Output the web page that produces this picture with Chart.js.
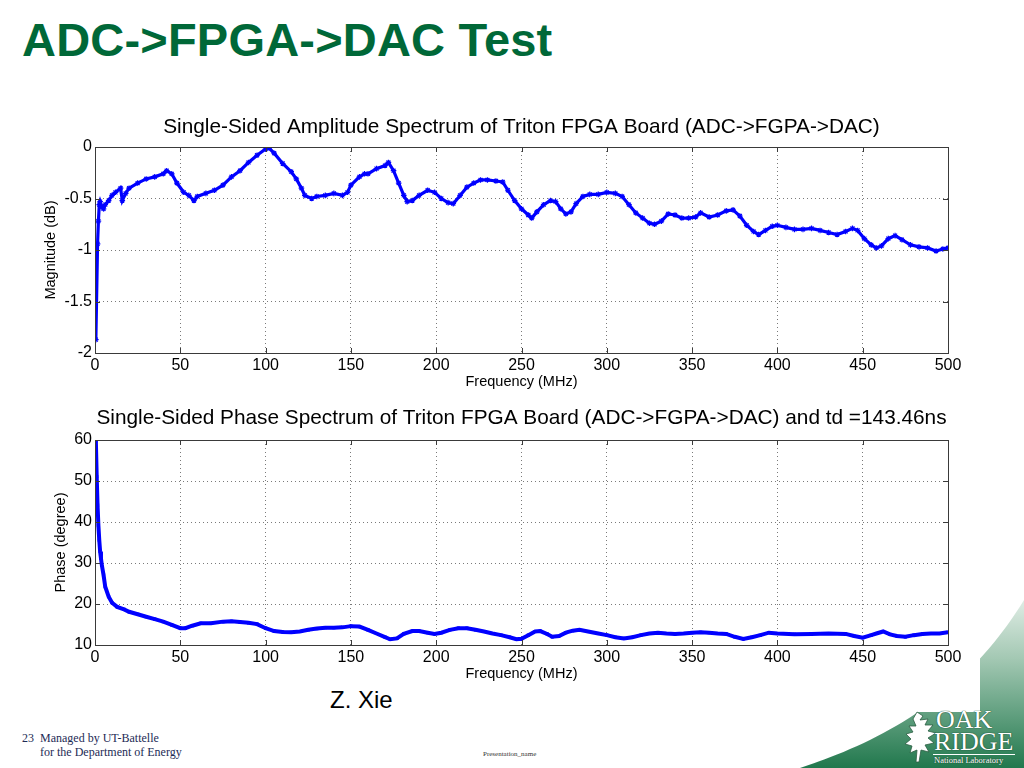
<!DOCTYPE html>
<html>
<head>
<meta charset="utf-8">
<script src="https://cdn.jsdelivr.net/npm/chart.js@4.4.1/dist/chart.umd.min.js"></script>
<style>
  html, body { margin: 0; padding: 0; }
  body { width: 1024px; height: 768px; overflow: hidden; position: relative; background: #fff; font-family: "Liberation Sans", Arial, sans-serif; }
  .abs { position: absolute; }
  #slideTitle { left: 22px; top: 16px; font-size: 47px; line-height: 47px; font-weight: bold; color: #006838; white-space: nowrap; letter-spacing: 0.2px; }
  #swoosh { left: 0; top: 0; }
  #paper { left: 0; top: 0; width: 980px; height: 712px; background: #fff; }
  #c1 { left: 0; top: 111px; }
  #c2 { left: 0; top: 404px; }
  #author { left: 330px; top: 686px; font-size: 24px; color: #000; }
  .foot { font-family: "Liberation Serif", "Times New Roman", serif; font-size: 12px; color: #1d2b55; white-space: nowrap; }
  #pres { left: 483px; top: 750px; font-family: "Liberation Serif", serif; font-size: 7px; color: #333; }
  .logo { font-family: "Liberation Serif", serif; color: #fff; white-space: nowrap; text-shadow: 0 0 1px #1c4d33, 0 0 1px #1c4d33; }
</style>
</head>
<body>
<svg id="swoosh" class="abs" width="1024" height="768">
  <defs>
    <linearGradient id="gr" x1="0" y1="600" x2="0" y2="768" gradientUnits="userSpaceOnUse">
      <stop offset="0" stop-color="#dfece4"/>
      <stop offset="0.35" stop-color="#a3c8b3"/>
      <stop offset="1" stop-color="#21784d"/>
    </linearGradient>
  </defs>
  <path d="M800,768 C870,745 960,705 1024,600 L1024,768 Z" fill="url(#gr)"/>
</svg>
<div id="paper" class="abs"></div>
<div id="slideTitle" class="abs">ADC-&gt;FPGA-&gt;DAC Test</div>
<canvas id="c1" class="abs" width="1024" height="282"></canvas>
<canvas id="c2" class="abs" width="1024" height="281"></canvas>
<div id="author" class="abs">Z. Xie</div>
<div class="abs foot" style="left:22px; top:731px;">23&nbsp;&nbsp;Managed by UT-Battelle</div>
<div class="abs foot" style="left:40px; top:745px;">for the Department of Energy</div>
<div id="pres" class="abs">Presentation_name</div>
<svg class="abs" style="left:903px; top:710px;" width="36" height="54">
  <path d="M14,2 L20,6 L17,10 L25,9 L22,15 L30,15 L25,21 L33,23 L25,28 L31,33 L22,35 L26,42 L18,40 L16,52 L13,52 L14,40 L7,43 L9,36 L2,34 L8,29 L3,24 L10,22 L6,16 L13,16 L10,9 Z" fill="#fff" stroke="#2c5e43" stroke-width="0.8"/>
</svg>
<div class="abs logo" style="left:936px; top:707px; font-size:26px; line-height:26px;">OAK</div>
<div class="abs logo" style="left:934px; top:729px; font-size:26px; line-height:26px;">RIDGE</div>
<div class="abs" style="left:933px; top:754px; width:82px; border-top:1px solid #fff;"></div>
<div class="abs logo" style="left:934px; top:755px; font-size:8.5px; line-height:10px;">National Laboratory</div>

<script>
// amplitude spectrum (MHz, dB)
const magFreq = [0.5, 1.5, 2, 2.5, 3, 4, 5, 6, 8, 10, 12, 15, 16, 18, 20, 25, 30, 35, 40, 42,
  45, 48, 52, 55, 58, 60, 65, 70, 75, 80, 85, 90, 95, 100, 102, 105, 110, 115, 118, 121,
  123, 127, 130, 135, 140, 145, 148, 150, 155, 158, 160, 165, 170, 172, 175, 178, 181, 183, 186, 190,
  195, 199, 203, 207, 210, 214, 218, 222, 226, 230, 235, 239, 242, 246, 250, 254, 256, 259, 263, 267,
  270, 273, 276, 279, 282, 286, 290, 295, 300, 305, 309, 313, 317, 321, 325, 328, 332, 336, 340, 344,
  348, 352, 355, 360, 365, 370, 374, 378, 382, 386, 389, 393, 397, 400, 405, 410, 415, 420, 425, 430,
  435, 440, 444, 447, 451, 455, 458, 461, 465, 469, 473, 478, 483, 488, 493, 497, 500];
const magDb = [-1.87, -0.94, -0.72, -0.56, -0.53, -0.58, -0.60, -0.56, -0.52, -0.47, -0.44, -0.40, -0.52, -0.45, -0.40, -0.35, -0.31, -0.29, -0.26, -0.23,
  -0.26, -0.35, -0.44, -0.47, -0.52, -0.48, -0.45, -0.42, -0.37, -0.29, -0.23, -0.15, -0.08, -0.02, -0.01, -0.06, -0.16, -0.24, -0.31, -0.40,
  -0.47, -0.50, -0.48, -0.47, -0.45, -0.47, -0.44, -0.37, -0.29, -0.26, -0.26, -0.21, -0.18, -0.15, -0.23, -0.35, -0.47, -0.53, -0.52, -0.47,
  -0.42, -0.44, -0.50, -0.54, -0.55, -0.47, -0.39, -0.35, -0.32, -0.32, -0.33, -0.34, -0.42, -0.52, -0.60, -0.66, -0.69, -0.63, -0.56, -0.52,
  -0.53, -0.60, -0.65, -0.63, -0.55, -0.48, -0.46, -0.46, -0.44, -0.45, -0.48, -0.56, -0.64, -0.69, -0.74, -0.75, -0.72, -0.65, -0.66, -0.69,
  -0.69, -0.68, -0.64, -0.68, -0.66, -0.62, -0.61, -0.67, -0.76, -0.82, -0.85, -0.81, -0.77, -0.76, -0.78, -0.80, -0.80, -0.79, -0.81, -0.83,
  -0.85, -0.82, -0.79, -0.81, -0.89, -0.95, -0.98, -0.96, -0.89, -0.86, -0.90, -0.95, -0.97, -0.98, -1.01, -0.99, -0.98];

// phase spectrum (MHz, degree)
const phaseFreq = [0.5, 1, 1.5, 2, 2.5, 3, 3.5, 4, 5, 6, 8, 10, 13, 17, 20, 25, 30, 35, 40, 45,
  50, 53, 57, 62, 68, 75, 80, 85, 90, 95, 100, 105, 110, 115, 120, 125, 130, 135, 140, 145,
  150, 155, 160, 165, 170, 173, 177, 181, 186, 190, 195, 199, 203, 208, 213, 218, 223, 228, 233, 238,
  243, 247, 250, 254, 258, 261, 265, 268, 272, 276, 280, 284, 289, 295, 300, 305, 310, 315, 320, 325,
  330, 335, 340, 345, 350, 355, 360, 365, 370, 375, 380, 385, 390, 395, 400, 410, 420, 430, 440, 445,
  450, 455, 458, 462, 466, 470, 475, 480, 485, 490, 495, 500];
const phaseDeg = [59.8, 51.1, 44.1, 39.1, 35.6, 32.8, 31.1, 29.5, 27.1, 24.2, 21.8, 20.3, 19.3, 18.7, 18.1, 17.5, 16.9, 16.3, 15.7, 14.9,
  14.1, 14.1, 14.7, 15.3, 15.3, 15.7, 15.8, 15.6, 15.4, 15.1, 14.1, 13.4, 13.2, 13.1, 13.3, 13.7, 14.0, 14.2, 14.2, 14.3,
  14.6, 14.5, 13.7, 12.8, 11.9, 11.4, 11.6, 12.7, 13.4, 13.4, 13.0, 12.7, 13.0, 13.7, 14.1, 14.1, 13.7, 13.3, 12.8, 12.4,
  11.9, 11.4, 11.5, 12.4, 13.3, 13.4, 12.7, 12.0, 12.2, 13.0, 13.5, 13.7, 13.3, 12.8, 12.4, 11.9, 11.6, 11.9, 12.4, 12.8,
  13.0, 12.8, 12.7, 12.8, 13.0, 13.1, 13.0, 12.8, 12.7, 12.0, 11.5, 11.9, 12.4, 13.0, 12.8, 12.6, 12.7, 12.8, 12.7, 12.2,
  11.8, 12.4, 12.8, 13.3, 12.6, 12.2, 12.0, 12.4, 12.7, 12.8, 12.8, 13.1];

const freqTicks = [0, 50, 100, 150, 200, 250, 300, 350, 400, 450, 500];

const AREA_LEFT = 95, AREA_RIGHT = 948;
const FONT = "'Liberation Sans', Arial, sans-serif";

// matlab style box with inward ticks, title centred over the axes
const boxPlugin = {
  id: "box",
  afterDraw(chart, args, opts) {
    const ctx = chart.ctx, a = chart.chartArea;
    const xs = chart.scales.x, ys = chart.scales.y;
    ctx.save();
    ctx.strokeStyle = "#3a3a3a";
    ctx.lineWidth = 1;
    ctx.strokeRect(Math.round(a.left) + 0.5, Math.round(a.top) + 0.5, Math.round(a.right - a.left), Math.round(a.bottom - a.top));
    ctx.beginPath();
    xs.ticks.forEach((t, i) => {
      const px = Math.round(xs.getPixelForTick(i)) + 0.5;
      ctx.moveTo(px, a.bottom); ctx.lineTo(px, a.bottom - 5);
      ctx.moveTo(px, a.top); ctx.lineTo(px, a.top + 5);
    });
    ys.ticks.forEach((t, i) => {
      const py = Math.round(ys.getPixelForTick(i)) + 0.5;
      ctx.moveTo(a.left, py); ctx.lineTo(a.left + 5, py);
      ctx.moveTo(a.right, py); ctx.lineTo(a.right - 5, py);
    });
    ctx.stroke();
    ctx.fillStyle = "#000";
    ctx.font = "20.8px " + FONT;
    ctx.textAlign = "center";
    ctx.textBaseline = "middle";
    ctx.fillText(opts.text, (a.left + a.right) / 2, a.top - opts.gap);
    ctx.restore();
  }
};

function makeChart(id, title, titleGap, xs, ys, yMin, yMax, yStep, yTitle, yTitlePad, lineW, ptStyle, ptRadius) {
  const canvas = document.getElementById(id);
  return new Chart(canvas.getContext("2d"), {
    type: "line",
    data: {
      datasets: [{
        data: xs.map((f, i) => ({ x: f, y: ys[i] })),
        borderColor: "#0000ff",
        backgroundColor: "#0000ff",
        borderWidth: lineW,
        pointStyle: ptStyle,
        pointRadius: ptRadius,
        pointBorderWidth: 1.2,
        pointBorderColor: "#0000ff",
        tension: 0,
        fill: false
      }]
    },
    options: {
      responsive: false,
      animation: false,
      devicePixelRatio: 1,
      layout: { padding: { left: 0, right: canvas.width - AREA_RIGHT, top: 36, bottom: 0 } },
      plugins: {
        legend: { display: false },
        tooltip: { enabled: false },
        title: { display: false },
        box: { text: title, gap: titleGap }
      },
      scales: {
        x: {
          type: "linear",
          min: 0, max: 500,
          afterBuildTicks: (s) => { s.ticks = freqTicks.map(v => ({ value: v })); },
          afterFit: (s) => { s.height = 40; },
          ticks: { color: "#000", font: { family: FONT, size: 16 }, padding: 3, maxRotation: 0 },
          grid: { color: "#7a7a7a", lineWidth: 1, drawTicks: false },
          border: { display: false, dash: [1, 3] },
          title: { display: true, text: "Frequency (MHz)", color: "#000", font: { family: FONT, size: 14.5 }, padding: { top: 0, bottom: 2.3 } }
        },
        y: {
          type: "linear",
          min: yMin, max: yMax,
          ticks: { stepSize: yStep, color: "#000", font: { family: FONT, size: 16 }, padding: 3, callback: (v) => String(v) },
          afterFit: (s) => { s.width = AREA_LEFT; },
          grid: { color: "#7a7a7a", lineWidth: 1, drawTicks: false },
          border: { display: false, dash: [1, 3] },
          title: { display: true, text: yTitle, color: "#000", font: { family: FONT, size: 14.5 }, padding: { top: yTitlePad, bottom: 0 } }
        }
      }
    },
    plugins: [boxPlugin]
  });
}

makeChart("c1", "Single-Sided Amplitude Spectrum of Triton FPGA Board (ADC->FGPA->DAC)", 20,
  magFreq, magDb, -2, 0, 0.5, "Magnitude (dB)", 42.3, 3.2, "star", 2.8);
makeChart("c2", "Single-Sided Phase Spectrum of Triton FPGA Board (ADC->FGPA->DAC) and td =143.46ns", 22,
  phaseFreq, phaseDeg, 10, 60, 10, "Phase (degree)", 52.3, 4, "rect", 1.4);
</script>
</body>
</html>
